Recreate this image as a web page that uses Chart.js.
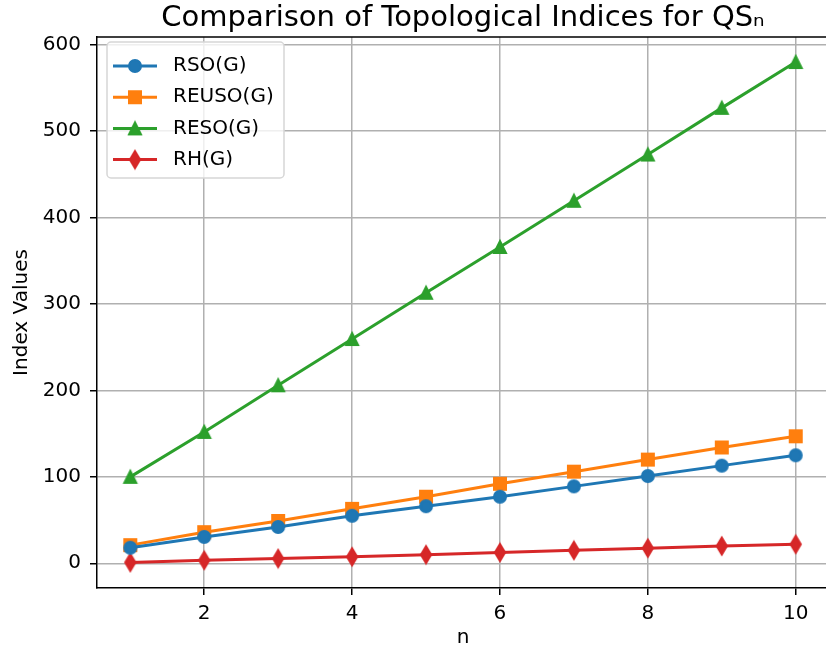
<!DOCTYPE html>
<html>
<head>
<meta charset="utf-8">
<script src="https://cdn.jsdelivr.net/npm/chart.js@4.4.0/dist/chart.umd.min.js"></script>
<style>
html, body { margin: 0; padding: 0; background: #fff; overflow: hidden; }
canvas { display: block; }
</style>
</head>
<body>
<canvas id="chart" width="836" height="653" style="width:836px;height:653px"></canvas>
<script>
// Topological index values for QS_n

const nValues = [1, 2, 3, 4, 5, 6, 7, 8, 9, 10];
const rso   = [18, 30.5, 42, 55, 66, 77, 89, 101, 113, 125];
const reuso = [21, 36, 49, 63, 77, 92, 106, 120, 134, 147];
const reso  = [100, 152, 206, 259.5, 313, 366, 419.5, 473, 527, 580];
const rh    = [1, 3.5, 5.5, 7.5, 10, 12.5, 15, 17.5, 20, 22];

const xTicks = [2, 4, 6, 8, 10];
const yTicks = [0, 100, 200, 300, 400, 500, 600];

const seriesLabels = ["RSO(G)", "REUSO(G)", "RESO(G)", "RH(G)"];
const seriesColors = ["#1f77b4", "#ff7f0e", "#2ca02c", "#d62728"];
const seriesMarkers = ["circle", "square", "triangle", "thinDiamond"];
const seriesValues = [rso, reuso, reso, rh];

const FONT = "DejaVu Sans";

// --- marker images (matplotlib-like o, s, ^, d) ---

function makeMarker(shape, color) {
  var c = document.createElement("canvas");
  c.width = 22;
  c.height = 22;
  var ctx = c.getContext("2d");
  var s = 12;
  ctx.translate(11, 11);
  ctx.beginPath();
  if (shape === "circle") {
    ctx.arc(0, 0, s / 2, 0, Math.PI * 2);
  } else if (shape === "square") {
    ctx.rect(-s / 2, -s / 2, s, s);
  } else if (shape === "triangle") {
    ctx.moveTo(0, -s / 2);
    ctx.lineTo(s / 2, s / 2);
    ctx.lineTo(-s / 2, s / 2);
    ctx.closePath();
  } else {
    var h = s * 0.707, w = s * 0.707 * 0.6;
    ctx.moveTo(0, -h);
    ctx.lineTo(w, 0);
    ctx.lineTo(0, h);
    ctx.lineTo(-w, 0);
    ctx.closePath();
  }
  ctx.fillStyle = color;
  ctx.fill();
  ctx.strokeStyle = color;
  ctx.lineWidth = 2;
  ctx.stroke();
  return c;
}

var markerImages = seriesMarkers.map(function(m, i) { return makeMarker(m, seriesColors[i]); });

// --- plugins: top/right spines and a boxed legend inside the axes ---

var spines = {
  id: "spines",
  afterDraw: function(chart) {
    var ctx = chart.ctx, a = chart.chartArea;
    ctx.save();
    ctx.strokeStyle = "#000";
    ctx.lineWidth = 1.5;
    ctx.beginPath();
    ctx.moveTo(a.left, a.top);
    ctx.lineTo(a.right, a.top);
    ctx.lineTo(a.right, a.bottom);
    ctx.stroke();
    ctx.restore();
  }
};

var boxedLegend = {
  id: "boxedLegend",
  afterDraw: function(chart) {
    var ctx = chart.ctx, a = chart.chartArea;
    var x0 = a.left + 10, y0 = a.top + 5, w = 177, h = 136, r = 4;
    ctx.save();
    ctx.beginPath();
    ctx.moveTo(x0 + r, y0);
    ctx.arcTo(x0 + w, y0, x0 + w, y0 + h, r);
    ctx.arcTo(x0 + w, y0 + h, x0, y0 + h, r);
    ctx.arcTo(x0, y0 + h, x0, y0, r);
    ctx.arcTo(x0, y0, x0 + w, y0, r);
    ctx.closePath();
    ctx.fillStyle = "rgba(255,255,255,0.8)";
    ctx.fill();
    ctx.strokeStyle = "#d6d6d6";
    ctx.lineWidth = 1.5;
    ctx.stroke();

    chart.data.datasets.forEach(function(ds, i) {
      var y = y0 + 24 + i * 31.2;
      ctx.strokeStyle = ds.borderColor;
      ctx.lineWidth = 3;
      ctx.beginPath();
      ctx.moveTo(x0 + 6, y);
      ctx.lineTo(x0 + 50, y);
      ctx.stroke();
      var img = markerImages[i];
      ctx.drawImage(img, x0 + 28 - img.width / 2, y - img.height / 2);
      ctx.fillStyle = "#000";
      ctx.font = "20px '" + FONT + "'";
      ctx.textBaseline = "middle";
      ctx.textAlign = "left";
      ctx.fillText(ds.label, x0 + 66, y);
    });
    ctx.restore();
  }
};

// --- chart ---

var datasets = seriesLabels.map(function(label, i) {
  return {
    label: label,
    data: nValues.map(function(n, j) { return { x: n, y: seriesValues[i][j] }; }),
    borderColor: seriesColors[i],
    backgroundColor: seriesColors[i],
    borderWidth: 3,
    pointStyle: markerImages[i],
    tension: 0
  };
});

new Chart(document.getElementById("chart"), {
  type: "line",
  data: { datasets: datasets },
  options: {
    responsive: false,
    animation: false,
    layout: { padding: { left: 0, right: 1.5, top: 0, bottom: 0 } },
    plugins: {
      legend: { display: false },
      tooltip: { enabled: false },
      title: {
        display: true,
        text: "Comparison of Topological Indices for QSₙ",
        color: "#000",
        fullSize: false,
        font: { family: FONT, size: 29, weight: "normal" },
        padding: { top: 1, bottom: 1.2 }
      }
    },
    scales: {
      x: {
        type: "linear",
        min: 0.55,
        max: 10.45,
        afterBuildTicks: function(s) { s.ticks = xTicks.map(function(v) { return { value: v }; }); },
        afterFit: function(s) { s.height = 65; },
        grid: { color: "#b0b0b0", lineWidth: 1.5, tickLength: 7, tickColor: "#000", tickWidth: 1.5 },
        border: { color: "#000", width: 1.5 },
        ticks: { color: "#000", font: { family: FONT, size: 20 }, padding: 7, maxRotation: 0 },
        title: { display: true, text: "n", color: "#000", font: { family: FONT, size: 20 }, padding: { top: 0, bottom: 3 } }
      },
      y: {
        min: -28.6,
        max: 609,
        afterBuildTicks: function(s) { s.ticks = yTicks.map(function(v) { return { value: v }; }); },
        afterFit: function(s) { s.width = 97; },
        grid: { color: "#b0b0b0", lineWidth: 1.5, tickLength: 7, tickColor: "#000", tickWidth: 1.5 },
        border: { color: "#000", width: 1.5 },
        ticks: { color: "#000", font: { family: FONT, size: 20 }, padding: 9 },
        title: { display: true, text: "Index Values", color: "#000", font: { family: FONT, size: 20 }, padding: { top: 10, bottom: 0 } }
      }
    }
  },
  plugins: [spines, boxedLegend]
});
</script>
</body>
</html>
